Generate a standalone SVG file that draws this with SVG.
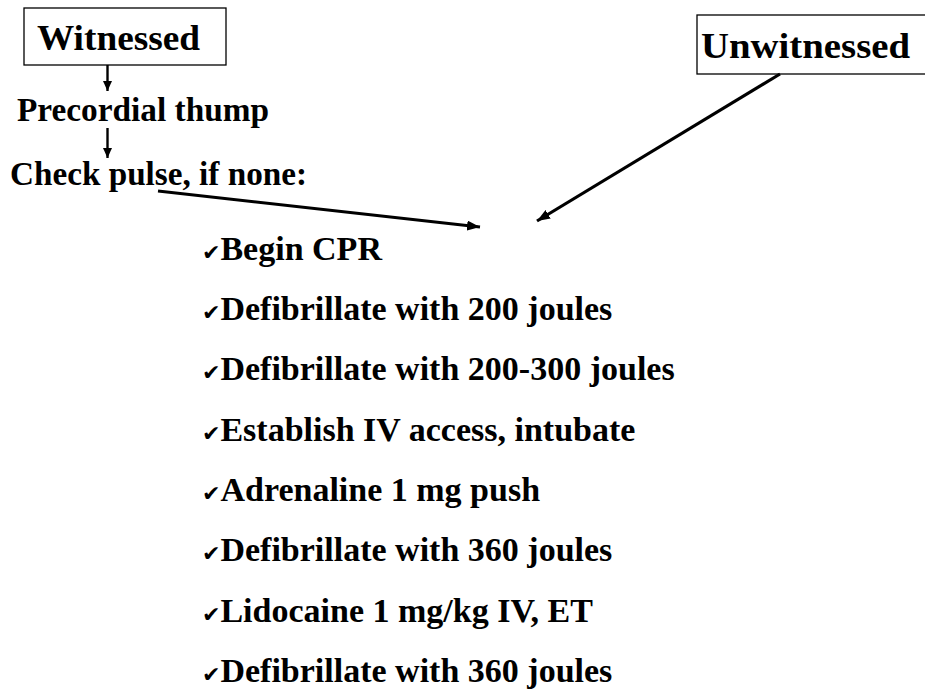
<svg xmlns="http://www.w3.org/2000/svg" width="925" height="691" viewBox="0 0 925 691">
<style>
.t{font-family:"Liberation Serif","Times New Roman",serif;font-weight:bold;fill:#000}
.s{font-size:34px}
.box{fill:#fff;stroke:#000;stroke-width:1.3}
.c{stroke:#000;fill:none}
.ck{font-family:"DejaVu Sans",sans-serif;font-weight:normal;font-size:22px}
</style>
<defs>
<marker id="ahv" viewBox="0 0 10 9" refX="10" refY="4.5" markerWidth="10" markerHeight="9" orient="auto" markerUnits="userSpaceOnUse">
<path d="M0,0 L10,4.5 L0,9 z" fill="#000"/>
</marker>
<marker id="ahd" viewBox="0 0 13 10" refX="13" refY="5" markerWidth="13" markerHeight="10" orient="auto" markerUnits="userSpaceOnUse">
<path d="M0,0 L13,5 L0,10 z" fill="#000"/>
</marker>
</defs>
<rect width="925" height="691" fill="#fff"/>
<g id="witnessed">
<rect class="box" x="24" y="8" width="202" height="57"/>
<text class="t" x="37" y="50" font-size="36" textLength="163" lengthAdjust="spacingAndGlyphs">Witnessed</text>
</g>
<g id="unwitnessed">
<rect class="box" x="697" y="15" width="240" height="59"/>
<text class="t" x="701" y="58" font-size="36" textLength="209" lengthAdjust="spacingAndGlyphs">Unwitnessed</text>
</g>
<g id="precordial">
<text class="t" x="17" y="121" font-size="33" textLength="252" lengthAdjust="spacingAndGlyphs">Precordial thump</text>
</g>
<g id="check">
<text class="t" x="10" y="185" font-size="33" textLength="297" lengthAdjust="spacingAndGlyphs">Check pulse, if none:</text>
</g>
<g id="connectors">
<line class="c" x1="107.5" y1="65" x2="107.5" y2="91" stroke-width="2.4" marker-end="url(#ahv)"/>
<line class="c" x1="107.5" y1="128" x2="107.5" y2="158" stroke-width="2.4" marker-end="url(#ahv)"/>
<line class="c" x1="158" y1="191" x2="480" y2="227" stroke-width="3" marker-end="url(#ahd)"/>
<line class="c" x1="780" y1="74" x2="537" y2="221" stroke-width="3.2" marker-end="url(#ahd)"/>
</g>
<g id="steps">
<text class="t s" x="202" y="260"><tspan class="ck">✔</tspan>Begin CPR</text>
<text class="t s" x="202" y="320"><tspan class="ck">✔</tspan>Defibrillate with 200 joules</text>
<text class="t s" x="202" y="380"><tspan class="ck">✔</tspan>Defibrillate with 200-300 joules</text>
<text class="t s" x="202" y="441"><tspan class="ck">✔</tspan>Establish IV access, intubate</text>
<text class="t s" x="202" y="501"><tspan class="ck">✔</tspan>Adrenaline 1 mg push</text>
<text class="t s" x="202" y="561"><tspan class="ck">✔</tspan>Defibrillate with 360 joules</text>
<text class="t s" x="202" y="622"><tspan class="ck">✔</tspan>Lidocaine 1 mg/kg IV, ET</text>
<text class="t s" x="202" y="682"><tspan class="ck">✔</tspan>Defibrillate with 360 joules</text>
</g>
</svg>
